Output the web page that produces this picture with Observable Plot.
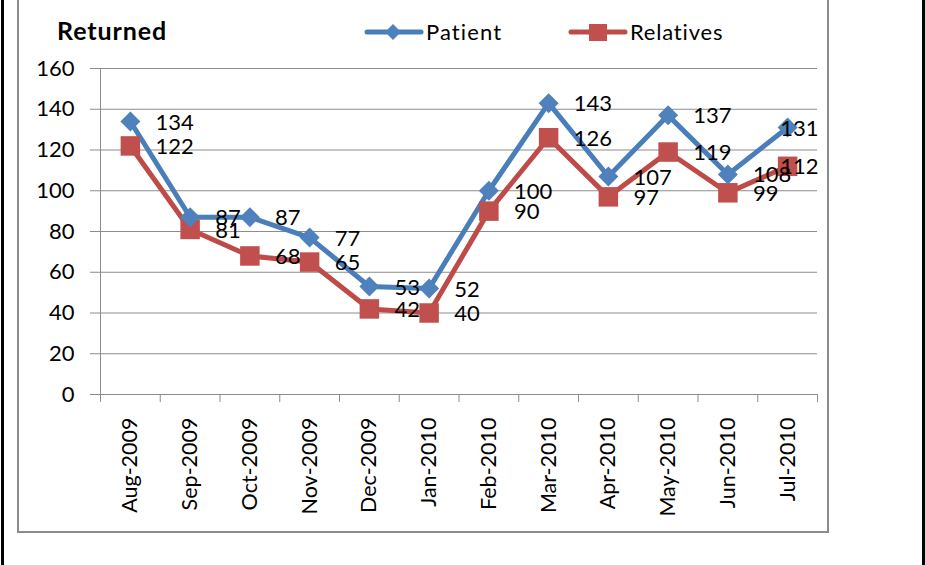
<!DOCTYPE html>
<html>
<head>
<meta charset="utf-8">
<script src="https://cdn.jsdelivr.net/npm/d3@7"></script>
<script src="https://cdn.jsdelivr.net/npm/@observablehq/plot@0.6"></script>
<style>
  html, body { margin: 0; padding: 0; background: #fff; }
  #wrap { position: relative; width: 925px; height: 565px; overflow: hidden; font-family: Lato, "Open Sans", sans-serif; }
  .abs { position: absolute; }
  #chart { position: absolute; left: 0; top: 0; }
</style>
</head>
<body>
<div id="wrap">
  <div class="abs" style="left:1px;top:0;width:3px;height:565px;background:#000;"></div>
  <div class="abs" style="left:922px;top:0;width:3px;height:565px;background:#000;"></div>
  <div class="abs" style="left:17px;top:-10px;width:812px;height:543px;border:2px solid #8c8c8c;box-sizing:border-box;"></div>
  <div class="abs" style="left:57px;top:15px;font-size:25px;font-weight:bold;letter-spacing:0.9px;color:#000;">Returned</div>
  <svg class="abs" style="left:0;top:0;" width="925" height="60">
    <line x1="367" y1="32" x2="421" y2="32" stroke="#4A7EBB" stroke-width="5" stroke-linecap="round"/>
    <path d="M393,24 L401,32 L393,40 L385,32 Z" fill="#4F81BD"/>
    <text x="426" y="40" font-family="Lato" font-size="22" letter-spacing="1.1" fill="#000">Patient</text>
    <line x1="571" y1="32" x2="625" y2="32" stroke="#BE4B48" stroke-width="5" stroke-linecap="round"/>
    <rect x="589" y="24" width="18" height="17" fill="#C0504D"/>
    <text x="630" y="40" font-family="Lato" font-size="22" letter-spacing="0.8" fill="#000">Relatives</text>
  </svg>
  <div id="chart"></div>
</div>
<script>
const months = ["Aug-2009","Sep-2009","Oct-2009","Nov-2009","Dec-2009","Jan-2010","Feb-2010","Mar-2010","Apr-2010","May-2010","Jun-2010","Jul-2010"];
const patient = [134, 87, 87, 77, 53, 52, 100, 143, 107, 137, 108, 131];
const relatives = [122, 81, 68, 65, 42, 40, 90, 126, 97, 119, 99, 112];
const yTicks = [0, 20, 40, 60, 80, 100, 120, 140, 160];

const pRows = months.map((m, i) => ({i, month: m, value: patient[i]}));
const rRows = months.map((m, i) => ({i, month: m, value: relatives[i]}));
const last = months.length - 1;
const boundaries = d3.range(months.length + 1).map(k => k - 0.5);

const blue = "#4A7EBB", blueFill = "#4F81BD";
const red = "#BE4B48", redFill = "#C0504D";
const gray = "#8c8c8c";

const plot = Plot.plot({
  width: 925,
  height: 565,
  marginLeft: 100,
  marginRight: 108,
  marginTop: 68,
  marginBottom: 171,
  style: {fontFamily: "Lato, 'Open Sans', sans-serif", fontSize: "22px", background: "transparent", color: "#000", overflow: "visible"},
  x: {type: "linear", domain: [-0.5, last + 0.5]},
  y: {domain: [0, 160]},
  marks: [
    Plot.gridY(yTicks, {stroke: gray, strokeOpacity: 1}),
    Plot.axisY(yTicks, {tickSize: 10, tickPadding: 16, stroke: gray, fill: "#000", label: null, tickFormat: d => d}),
    Plot.ruleY([0], {stroke: gray}),
    Plot.ruleX([-0.5], {stroke: gray}),
    Plot.axisX(boundaries, {tickSize: 8, stroke: gray, tickFormat: () => "", label: null}),
    Plot.axisX(d3.range(months.length), {tickSize: 0, tickPadding: 23, tickRotate: -90, tickFormat: i => months[i], fill: "#000", label: null, fontSize: 21.5}),
    Plot.line(rRows, {x: "i", y: "value", stroke: red, strokeWidth: 5}),
    Plot.line(pRows, {x: "i", y: "value", stroke: blue, strokeWidth: 5}),
    Plot.dot(rRows, {x: "i", y: "value", symbol: "square", r: 11, fill: redFill}),
    Plot.dot(pRows, {x: "i", y: "value", symbol: "diamond2", r: 9, fill: blueFill}),
    Plot.text(pRows.filter(d => d.i < last), {x: "i", y: "value", text: d => String(d.value), dx: 25, dy: 1, textAnchor: "start", fill: "#000", fontSize: 22}),
    Plot.text(rRows.filter(d => d.i < last), {x: "i", y: "value", text: d => String(d.value), dx: 25, dy: 1, textAnchor: "start", fill: "#000", fontSize: 22}),
    Plot.text(pRows.filter(d => d.i === last), {x: "i", y: "value", text: d => String(d.value), dx: 31, dy: 1, textAnchor: "end", fill: "#000", fontSize: 22}),
    Plot.text(rRows.filter(d => d.i === last), {x: "i", y: "value", text: d => String(d.value), dx: 31, dy: 1, textAnchor: "end", fill: "#000", fontSize: 22})
  ]
});
document.getElementById("chart").appendChild(plot);
</script>
</body>
</html>
